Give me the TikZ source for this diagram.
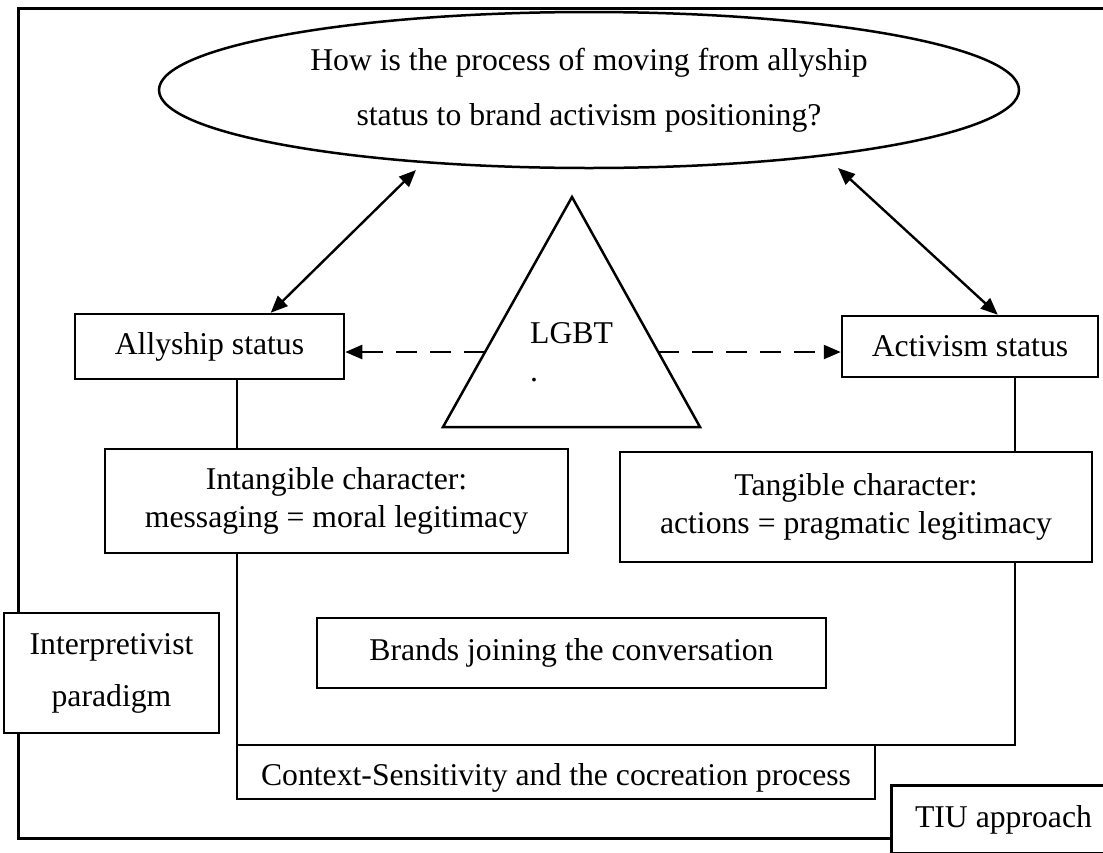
\documentclass[tikz,border=0pt]{standalone}
\usepackage{fontspec}
\setmainfont{Liberation Serif}
\usetikzlibrary{arrows.meta,calc,shapes.geometric}

\begin{document}
\begin{tikzpicture}[x=1pt,y=-1pt,
  every node/.style={font=\fontsize{31.7pt}{38pt}\selectfont},
  box/.style={draw,rectangle,line width=2.5pt,fill=white,inner sep=0pt,align=center},
  frameline/.style={line width=3pt},
  thinline/.style={line width=1.3pt},
  twoway/.style={line width=2.4pt,{Triangle[length=17pt,width=14pt]}-{Triangle[length=17pt,width=14pt]}},
  dashedarrow/.style={line width=2.4pt,dash pattern=on 21pt off 13pt,-{Triangle[length=17pt,width=14pt]}}
]
\useasboundingbox (0,0) rectangle (1103,852);
\clip (0,0) rectangle (1103,852);

% outer frame (right side lies past the page edge)
\draw[frameline] (18,8) rectangle (1140,838);

% question ellipse
\node[draw,ellipse,line width=2.5pt,minimum width=860pt,minimum height=156pt,inner sep=0pt,
      align=center,font=\fontsize{31.7pt}{55pt}\selectfont] (q) at (589,90)
  {How is the process of moving from allyship\\status to brand activism positioning?};

% triangle corners
\coordinate (tA) at (572,197);
\coordinate (tL) at (443,427);
\coordinate (tR) at (700,427);

% guide columns for the thin connectors
\coordinate (cL) at (237,0);
\coordinate (cR) at (1015,0);

% boxes
\node[box,minimum width=269pt,minimum height=65pt] (ally) at (209.5,346.5) {Allyship status};
\node[box,minimum width=256pt,minimum height=61pt] (act) at (970,346.5) {Activism status};
\node[box,minimum width=463pt,minimum height=104pt] (intg) at (336.5,501) {Intangible character:\\messaging = moral legitimacy};
\node[box,minimum width=472pt,minimum height=110pt] (tang) at (856,507) {Tangible character:\\actions = pragmatic legitimacy};
\node[box,minimum width=509pt,minimum height=70pt] (brand) at (571.5,653) {Brands joining the conversation};
\node[box,minimum width=215pt,minimum height=120pt,font=\fontsize{31.7pt}{52pt}\selectfont] (interp) at (111.5,673) {Interpretivist\\paradigm};

% thin connectors
\draw[thinline] (ally.south -| cL) -- (intg.north -| cL);
\draw[thinline] (intg.south -| cL) -- (cL |- 0,745);
\draw[thinline] (act.south -| cR) -- (tang.north -| cR);
\draw[thinline] (tang.south -| cR) -- (cR |- 0,745) -- (237,745);

\node[box,minimum width=638pt,minimum height=54pt,text height=33pt,text depth=7pt] (ctx) at (556,772)
  {Context-Sensitivity and the cocreation process};

% triangle with its label
\draw[line width=2.5pt,line join=miter] (tA) -- (tL) -- (tR) -- cycle;
\node[anchor=north west,inner sep=0pt,align=left] (lgbt) at (530,322) {LGBT\\.};

% dashed arrows from the triangle to the two status boxes
\coordinate (dL) at ($(tL)!0.326!(tA)$);
\coordinate (dR) at ($(tR)!0.326!(tA)$);
\draw[dashedarrow] (dL) -- (dL -| ally.east);
\draw[dashedarrow] (dR) -- (dR -| act.west);

% two-way arrows between the question and the status boxes
\coordinate (qL) at (416,170);
\coordinate (qR) at (838,168);
\draw[twoway] (qL) -- ($(ally.north west)+(197,0)$);
\draw[twoway] (qR) -- ($(act.north west)+(157,0)$);

% approach box in the corner
\node[box,line width=3pt,minimum width=225pt,minimum height=67.4pt] (tiu) at (1003.5,819.6) {TIU approach};
\end{tikzpicture}
\end{document}
